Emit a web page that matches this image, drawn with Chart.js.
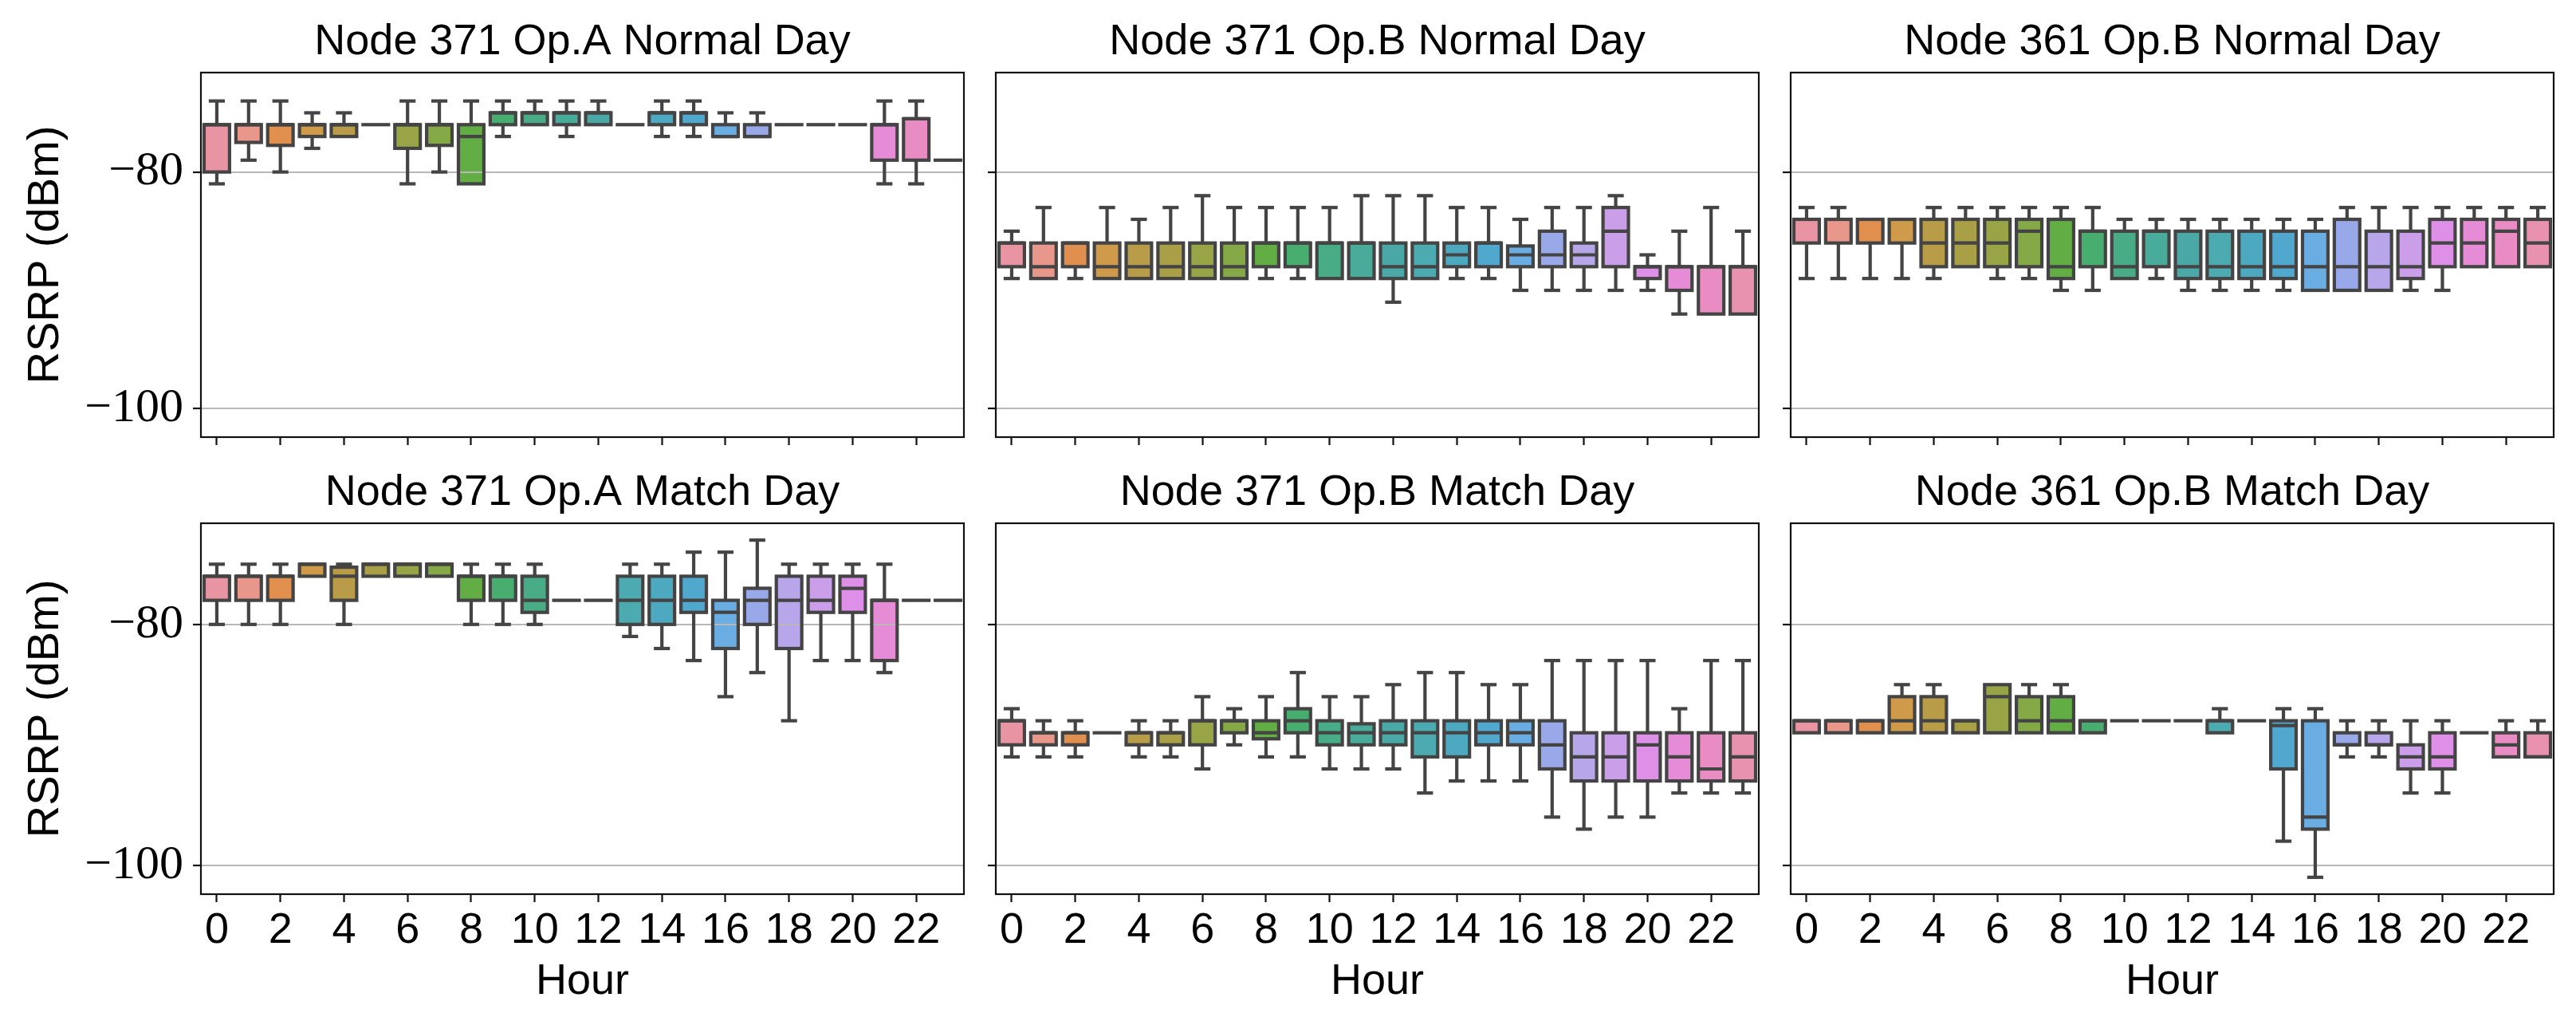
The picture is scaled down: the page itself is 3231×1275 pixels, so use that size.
<!DOCTYPE html>
<html>
<head>
<meta charset="utf-8">
<script src="https://cdn.jsdelivr.net/npm/chart.js@4.4.1/dist/chart.umd.min.js"></script>
<style>
  body { margin: 0; background: #fff; }
  #fig { position: relative; width: 3231px; height: 1275px; background: #fff; overflow: hidden; }
  #fig canvas { position: absolute; }
</style>
</head>
<body>
<div id="fig"></div>
<script>
const hourLabels = ['0','1','2','3','4','5','6','7','8','9','10','11','12','13','14','15','16','17','18','19','20','21','22','23'];
const yTicks = [-100, -80];

// Node 371 Op.A Normal Day
const a371nLo  = [-81,-79,-80,-78,-77,-76,-81,-80,-81,-77,-76,-77,-76,-76,-77,-77,-77,-77,-76,-76,-76,-81,-81,-79];
const a371nQ1  = [-80,-77.5,-77.75,-77,-77,-76,-78,-77.75,-81,-76,-76,-76,-76,-76,-76,-76,-77,-77,-76,-76,-76,-79,-79,-79];
const a371nMed = [-76,-76,-76,-76,-76,-76,-76,-76,-77,-75,-75,-75,-75,-76,-75,-75,-77,-77,-76,-76,-76,-76,-75.5,-79];
const a371nQ3  = [-76,-76,-76,-76,-76,-76,-76,-76,-76,-75,-75,-75,-75,-76,-75,-75,-76,-76,-76,-76,-76,-76,-75.5,-79];
const a371nHi  = [-74,-74,-74,-75,-75,-76,-74,-74,-74,-74,-74,-74,-74,-76,-74,-74,-75,-75,-76,-76,-76,-74,-74,-79];

// Node 371 Op.B Normal Day
const b371nLo  = [-89,-89,-89,-89,-89,-89,-89,-89,-89,-89,-89,-89,-91,-89,-89,-89,-90,-90,-90,-90,-90,-92,-92,-92];
const b371nQ1  = [-88,-89,-88,-89,-89,-89,-89,-89,-88,-88,-89,-89,-89,-89,-88,-88,-88,-88,-88,-88,-89,-90,-92,-92];
const b371nMed = [-86,-88,-86,-88,-88,-88,-88,-88,-86,-86,-86,-86,-88,-88,-87,-86,-87,-87,-87,-85,-88,-88,-88,-88];
const b371nQ3  = [-86,-86,-86,-86,-86,-86,-86,-86,-86,-86,-86,-86,-86,-86,-86,-86,-86.25,-85,-86,-83,-88,-88,-88,-88];
const b371nHi  = [-85,-83,-86,-83,-84,-83,-82,-83,-83,-83,-83,-82,-82,-82,-83,-83,-84,-83,-83,-82,-87,-85,-83,-85];

// Node 361 Op.B Normal Day
const b361nLo  = [-89,-89,-89,-89,-89,-88,-89,-89,-90,-90,-89,-89,-90,-90,-90,-90,-90,-90,-90,-90,-90,-88,-88,-88];
const b361nQ1  = [-86,-86,-86,-86,-88,-88,-88,-88,-89,-88,-89,-88,-89,-89,-89,-89,-90,-90,-90,-89,-88,-88,-88,-88];
const b361nMed = [-84,-84,-84,-84,-86,-86,-86,-85,-88,-85,-88,-85,-88,-88,-88,-88,-88,-88,-88,-88,-86,-86,-85,-86];
const b361nQ3  = [-84,-84,-84,-84,-84,-84,-84,-84,-84,-85,-85,-85,-85,-85,-85,-85,-85,-84,-85,-85,-84,-84,-84,-84];
const b361nHi  = [-83,-83,-84,-84,-83,-83,-83,-83,-83,-83,-84,-84,-84,-84,-84,-84,-84,-83,-83,-83,-83,-83,-83,-83];

// Node 371 Op.A Match Day
const a371mLo  = [-80,-80,-80,-76,-80,-76,-76,-76,-80,-80,-80,-78,-78,-81,-82,-83,-86,-84,-88,-83,-83,-84,-78,-78];
const a371mQ1  = [-78,-78,-78,-76,-78,-76,-76,-76,-78,-78,-79,-78,-78,-80,-80,-79,-82,-80,-82,-79,-79,-83,-78,-78];
const a371mMed = [-76,-76,-76,-75,-76,-75,-75,-75,-76,-76,-78,-78,-78,-78,-78,-78,-79,-78,-78,-78,-77,-78,-78,-78];
const a371mQ3  = [-76,-76,-76,-75,-75.25,-75,-75,-75,-76,-76,-76,-78,-78,-76,-76,-76,-78,-77,-76,-76,-76,-78,-78,-78];
const a371mHi  = [-75,-75,-75,-75,-75,-75,-75,-75,-75,-75,-75,-78,-78,-75,-75,-74,-74,-73,-75,-75,-75,-75,-78,-78];

// Node 371 Op.B Match Day
const b371mLo  = [-91,-91,-91,-89,-91,-91,-92,-90,-91,-91,-92,-92,-92,-94,-93,-93,-93,-96,-97,-96,-96,-94,-94,-94];
const b371mQ1  = [-90,-90,-90,-89,-90,-90,-90,-89,-89.5,-89,-90,-90,-90,-91,-91,-90,-90,-92,-93,-93,-93,-93,-93,-93];
const b371mMed = [-88,-89,-89,-89,-89,-89,-88,-88,-89,-88,-89,-89,-89,-89,-89,-89,-89,-90,-91,-91,-90,-91,-92,-91];
const b371mQ3  = [-88,-89,-89,-89,-89,-89,-88,-88,-88,-87,-88,-88.25,-88,-88,-88,-88,-88,-88,-89,-89,-89,-89,-89,-89];
const b371mHi  = [-87,-88,-88,-89,-88,-88,-86,-87,-86,-84,-86,-86,-85,-84,-84,-85,-85,-83,-83,-83,-83,-87,-83,-83];

// Node 361 Op.B Match Day
const b361mLo  = [-89,-89,-89,-89,-89,-89,-89,-89,-89,-89,-88,-88,-88,-89,-88,-98,-101,-91,-91,-94,-94,-89,-91,-91];
const b361mQ1  = [-89,-89,-89,-89,-89,-89,-89,-89,-89,-89,-88,-88,-88,-89,-88,-92,-97,-90,-90,-92,-92,-89,-91,-91];
const b361mMed = [-88,-88,-88,-88,-88,-88,-86,-88,-88,-88,-88,-88,-88,-88,-88,-88.4,-96,-90,-90,-91,-91,-89,-90,-91];
const b361mQ3  = [-88,-88,-88,-86,-86,-88,-85,-86,-86,-88,-88,-88,-88,-88,-88,-88,-88,-89,-89,-90,-89,-89,-89,-89];
const b361mHi  = [-88,-88,-88,-85,-85,-88,-85,-85,-85,-88,-88,-88,-88,-87,-88,-87,-87,-88,-88,-88,-88,-89,-88,-88];

const hourColors = ['#e994a2','#e8978a','#e08f4f','#cf9a4a','#b89c48','#a89f47','#99a447','#84a946',
                    '#62ad44','#47ae70','#48ad87','#49ab99','#4aa9a6','#4babb0','#4ca9bf','#51a8cf',
                    '#69ade3','#98a8e8','#b8a6ea','#cb9eea','#de8fe8','#e68bd6','#e98cc3','#e992af'];

const panels = [
  { title: 'Node 371 Op.A Normal Day', col: 0, row: 0, lo: a371nLo, q1: a371nQ1, med: a371nMed, q3: a371nQ3, hi: a371nHi },
  { title: 'Node 371 Op.B Normal Day', col: 1, row: 0, lo: b371nLo, q1: b371nQ1, med: b371nMed, q3: b371nQ3, hi: b371nHi },
  { title: 'Node 361 Op.B Normal Day', col: 2, row: 0, lo: b361nLo, q1: b361nQ1, med: b361nMed, q3: b361nQ3, hi: b361nHi },
  { title: 'Node 371 Op.A Match Day',  col: 0, row: 1, lo: a371mLo, q1: a371mQ1, med: a371mMed, q3: a371mQ3, hi: a371mHi },
  { title: 'Node 371 Op.B Match Day',  col: 1, row: 1, lo: b371mLo, q1: b371mQ1, med: b371mMed, q3: b371mQ3, hi: b371mHi },
  { title: 'Node 361 Op.B Match Day',  col: 2, row: 1, lo: b361mLo, q1: b361mQ1, med: b361mMed, q3: b361mQ3, hi: b361mHi }
];

const SANS = "'Liberation Sans', Arial, sans-serif";
const SERIF = "'Liberation Serif', 'Times New Roman', serif";
const LINE = '#444444';
const LW = 4.2;

const colLeft = [252, 1249, 2246];
const rowTop = [91, 656];
const plotW = 957, plotH = 465;

// whiskers, caps, box outlines and medians, drawn from the bar elements
const boxLines = {
  id: 'boxLines',
  afterDraw(chart) {
    const ds = chart.data.datasets[0];
    const meta = chart.getDatasetMeta(0);
    const y = chart.scales.y;
    const ctx = chart.ctx;
    ctx.save();
    ctx.strokeStyle = LINE;
    ctx.fillStyle = LINE;
    ctx.lineWidth = LW;
    meta.data.forEach((bar, i) => {
      const x = bar.x, hw = bar.width / 2, cap = bar.width / 4;
      const [q1, q3] = ds.data[i];
      const yq1 = y.getPixelForValue(q1), yq3 = y.getPixelForValue(q3);
      const yLo = y.getPixelForValue(ds.whisLo[i]), yHi = y.getPixelForValue(ds.whisHi[i]);
      const yMed = y.getPixelForValue(ds.medians[i]);
      ctx.lineCap = 'butt';
      if (ds.whisHi[i] > q3) {
        ctx.beginPath(); ctx.moveTo(x, yq3); ctx.lineTo(x, yHi); ctx.stroke();
        ctx.lineCap = 'square';
        ctx.beginPath(); ctx.moveTo(x - cap, yHi); ctx.lineTo(x + cap, yHi); ctx.stroke();
        ctx.lineCap = 'butt';
      }
      if (ds.whisLo[i] < q1) {
        ctx.beginPath(); ctx.moveTo(x, yq1); ctx.lineTo(x, yLo); ctx.stroke();
        ctx.lineCap = 'square';
        ctx.beginPath(); ctx.moveTo(x - cap, yLo); ctx.lineTo(x + cap, yLo); ctx.stroke();
        ctx.lineCap = 'butt';
      }
      if (q1 === q3) {
        ctx.fillRect(x - hw - LW / 2, yq3 - LW / 2, 2 * hw + LW, LW);
      } else {
        ctx.lineJoin = 'miter';
        ctx.strokeRect(x - hw, yq3, 2 * hw, yq1 - yq3);
        ctx.beginPath(); ctx.moveTo(x - hw, yMed); ctx.lineTo(x + hw, yMed); ctx.stroke();
      }
    });
    const a = chart.chartArea;
    ctx.strokeStyle = '#111';
    ctx.lineWidth = 2.2;
    ctx.strokeRect(a.left, a.top, a.right - a.left, a.bottom - a.top);
    ctx.restore();
  }
};

function makePanel(p) {
  const left = colLeft[p.col], top = rowTop[p.row];
  const yw = p.col === 0 ? left : 40;
  const th = 75, rp = 4;
  const xh = p.row === 1 ? 1275 - (top + plotH) : 40;
  const cv = document.createElement('canvas');
  const w = yw + plotW + rp, h = th + plotH + xh;
  cv.width = w; cv.height = h;
  cv.style.width = w + 'px'; cv.style.height = h + 'px';
  cv.style.left = (left - yw) + 'px';
  cv.style.top = (top - th) + 'px';
  document.getElementById('fig').appendChild(cv);

  new Chart(cv, {
    type: 'bar',
    data: {
      labels: hourLabels,
      datasets: [{
        data: p.q1.map((v, i) => [v, p.q3[i]]),
        medians: p.med,
        whisLo: p.lo,
        whisHi: p.hi,
        backgroundColor: hourColors,
        borderWidth: 0,
        barPercentage: 0.8,
        categoryPercentage: 1.0
      }]
    },
    options: {
      responsive: false,
      animation: false,
      devicePixelRatio: 1,
      layout: { padding: { left: 0, right: rp, top: 0, bottom: 0 } },
      plugins: {
        legend: { display: false },
        tooltip: { enabled: false },
        title: {
          display: true, text: p.title, color: '#000', fullSize: false,
          font: { family: SANS, size: 54, weight: 'normal', lineHeight: 1 },
          padding: { top: 10, bottom: 11 }
        }
      },
      scales: {
        x: {
          offset: true,
          border: { display: false },
          grid: {
            offset: false, drawOnChartArea: false, drawTicks: true,
            tickLength: 10, tickWidth: 2.2,
            tickColor: c => (c.index % 2 ? 'rgba(0,0,0,0)' : '#111')
          },
          ticks: {
            autoSkip: false, maxRotation: 0, minRotation: 0, padding: 4, color: '#000',
            font: { family: SANS, size: 54 },
            callback: (v, i) => (p.row === 1 && i % 2 === 0) ? hourLabels[i] : ''
          },
          title: {
            display: p.row === 1, text: 'Hour', color: '#000',
            font: { family: SANS, size: 54, lineHeight: 1 },
            padding: { top: 0, bottom: 17 }
          },
          afterFit: s => { s.height = xh; }
        },
        y: {
          min: -102.4, max: -71.6,
          border: { display: false },
          afterBuildTicks: s => { s.ticks = yTicks.map(v => ({ value: v })); },
          grid: { z: 1, color: '#b8b8b8', lineWidth: 2, tickLength: 10, tickWidth: 2.2, tickColor: '#111' },
          ticks: {
            padding: 12, color: '#000',
            font: { family: SERIF, size: 60 },
            callback: v => (p.col === 0 ? '\u2212' + Math.abs(v) : '')
          },
          title: {
            display: p.col === 0, text: 'RSRP (dBm)', color: '#000',
            font: { family: SANS, size: 56, lineHeight: 1 },
            padding: { top: 30, bottom: 0 }
          },
          afterFit: s => { s.width = yw; }
        }
      }
    },
    plugins: [boxLines]
  });
}

panels.forEach(makePanel);
</script>
</body>
</html>
